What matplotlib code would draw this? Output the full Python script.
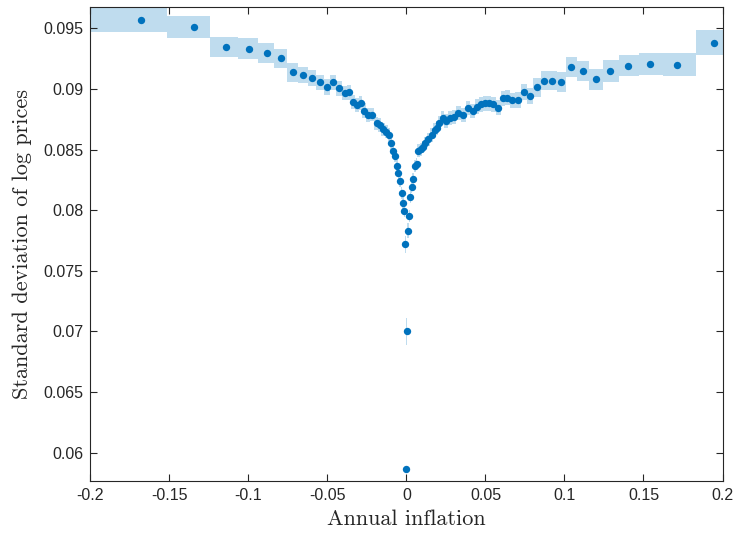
import numpy as np
import matplotlib
matplotlib.use("Agg")
import matplotlib.pyplot as plt

# Annual inflation (bin centres)
inflation = [
    -0.1682, -0.1345, -0.1141, -0.0994, -0.0881, -0.0791, -0.0715, -0.0652, -0.0596, -0.0547,
    -0.0501, -0.0463, -0.0429, -0.0389, -0.0364, -0.0337, -0.0313, -0.0290, -0.0269, -0.0242,
    -0.0215, -0.0189, -0.0168, -0.0149, -0.0128, -0.0109, -0.0098, -0.0085, -0.0074, -0.0060,
    -0.0052, -0.0041, -0.0030, -0.0022, -0.0014, -0.0008, -0.0001, 0.0002, 0.0009, 0.0018,
    0.0024, 0.0033, 0.0043, 0.0054, 0.0065, 0.0075, 0.0092, 0.0108, 0.0120, 0.0138,
    0.0159, 0.0180, 0.0193, 0.0208, 0.0229, 0.0250, 0.0275, 0.0301, 0.0328, 0.0359,
    0.0391, 0.0419, 0.0444, 0.0470, 0.0497, 0.0524, 0.0549, 0.0581, 0.0613, 0.0638,
    0.0668, 0.0706, 0.0742, 0.0780, 0.0826, 0.0872, 0.0923, 0.0980, 0.1041, 0.1115,
    0.1197, 0.1290, 0.1402, 0.1539, 0.1714, 0.1946,
]

# Standard deviation of log prices
std_log_prices = [
    0.09568, 0.09508, 0.09346, 0.09333, 0.09295, 0.09251, 0.09137, 0.09113, 0.09088, 0.09053,
    0.09018, 0.09053, 0.09005, 0.08966, 0.08971, 0.08892, 0.08867, 0.08884, 0.08822, 0.08785,
    0.08789, 0.08715, 0.08703, 0.08667, 0.08647, 0.08624, 0.08552, 0.08492, 0.08447, 0.08364,
    0.08309, 0.08243, 0.08139, 0.08057, 0.07993, 0.07719, 0.05866, 0.07000, 0.07831, 0.07952,
    0.08111, 0.08194, 0.08257, 0.08364, 0.08378, 0.08491, 0.08502, 0.08521, 0.08554, 0.08583,
    0.08620, 0.08661, 0.08678, 0.08717, 0.08758, 0.08736, 0.08758, 0.08771, 0.08799, 0.08785,
    0.08840, 0.08818, 0.08853, 0.08873, 0.08881, 0.08881, 0.08873, 0.08845, 0.08923, 0.08928,
    0.08905, 0.08909, 0.08971, 0.08943, 0.09012, 0.09068, 0.09068, 0.09057, 0.09178, 0.09148,
    0.09079, 0.09145, 0.09192, 0.09206, 0.09200, 0.09379,
]

# Confidence interval half-widths
ci_half = [
    0.00100, 0.00092, 0.00085, 0.00088, 0.00085, 0.00080, 0.00080, 0.00065, 0.00065, 0.00065,
    0.00065, 0.00065, 0.00062, 0.00060, 0.00060, 0.00060, 0.00058, 0.00058, 0.00058, 0.00058,
    0.00056, 0.00056, 0.00055, 0.00055, 0.00055, 0.00055, 0.00052, 0.00050, 0.00050, 0.00050,
    0.00050, 0.00050, 0.00050, 0.00050, 0.00050, 0.00070, 0.00110, 0.00110, 0.00060, 0.00052,
    0.00050, 0.00050, 0.00050, 0.00050, 0.00050, 0.00052, 0.00052, 0.00052, 0.00052, 0.00052,
    0.00055, 0.00055, 0.00055, 0.00058, 0.00058, 0.00058, 0.00058, 0.00058, 0.00058, 0.00058,
    0.00058, 0.00058, 0.00060, 0.00060, 0.00060, 0.00060, 0.00060, 0.00060, 0.00062, 0.00062,
    0.00064, 0.00064, 0.00066, 0.00068, 0.00080, 0.00078, 0.00078, 0.00082, 0.00082, 0.00086,
    0.00085, 0.00090, 0.00087, 0.00089, 0.00093, 0.00103,
]

xticks = [-0.2, -0.15, -0.1, -0.05, 0, 0.05, 0.1, 0.15, 0.2]
xticklabels = ["-0.2", "-0.15", "-0.1", "-0.05", "0", "0.05", "0.1", "0.15", "0.2"]
yticks = [0.06, 0.065, 0.07, 0.075, 0.08, 0.085, 0.09, 0.095]
yticklabels = ["0.06", "0.065", "0.07", "0.075", "0.08", "0.085", "0.09", "0.095"]

x = np.array(inflation)
y = np.array(std_log_prices)
c = np.array(ci_half)
lo = y - c
hi = y + c

XMIN, XMAX = -0.2, 0.2
edges = np.concatenate([[XMIN], (x[:-1] + x[1:]) / 2, [XMAX]])
lo_s = np.append(lo, lo[-1])
hi_s = np.append(hi, hi[-1])

plt.rcParams["font.family"] = ["Liberation Sans", "DejaVu Sans"]

fig = plt.figure(figsize=(7.33, 5.38), dpi=100)
ax = fig.add_axes([0.1232, 0.1065, 0.8625, 0.8799])

blue = "#0072BD"
band = "#BFDCEE"
ax.fill_between(edges, lo_s, hi_s, step="post", color=band, linewidth=0, zorder=1)
ax.plot(x, y, "o", color=blue, markersize=5.3, markeredgewidth=0, zorder=3)

ax.set_xlim(XMIN, XMAX)
ax.set_ylim(0.05769, 0.09673)
ax.set_xticks(xticks)
ax.set_xticklabels(xticklabels)
ax.set_yticks(yticks)
ax.set_yticklabels(yticklabels)

dark = "#262626"
for s in ax.spines.values():
    s.set_color(dark)
    s.set_linewidth(0.8)
ax.tick_params(direction="in", length=5, width=0.8, color=dark, labelcolor=dark,
               labelsize=11.5, top=True, right=True, pad=5)

ax.set_xlabel("Annual inflation", fontfamily="cmr10", fontsize=16, color=dark, labelpad=5)
ax.set_ylabel("Standard deviation of log prices", fontfamily="cmr10", fontsize=16,
              color=dark, labelpad=8)

fig.savefig("out.png", dpi=100)
